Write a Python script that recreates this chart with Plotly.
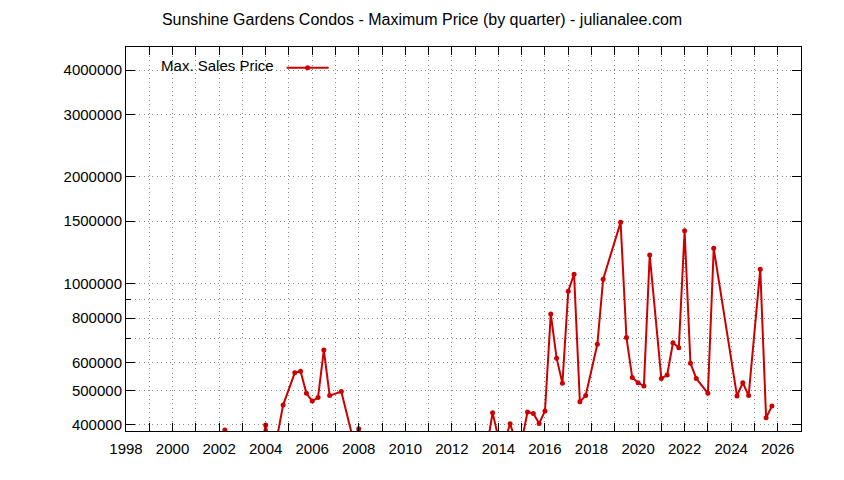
import plotly.graph_objects as go

# Quarterly sample dates (decimal years) and maximum sale prices
quarters = [
    2002.0, 2002.25, 2002.5, 2002.75, 2003.0, 2003.25, 2003.5, 2003.75,
    2004.0, 2004.25, 2004.5, 2004.75, 2005.25, 2005.5, 2005.75,
    2006.0, 2006.25, 2006.5, 2006.75, 2007.25, 2007.75,
    2008.0, 2008.25, 2013.5, 2013.75,
    2014.0, 2014.25, 2014.5, 2014.75, 2015.0, 2015.25, 2015.5, 2015.75,
    2016.0, 2016.25, 2016.5, 2016.75, 2017.0, 2017.25, 2017.5, 2017.75,
    2018.25, 2018.5, 2019.25, 2019.5, 2019.75,
    2020.0, 2020.25, 2020.5, 2021.0, 2021.25, 2021.5, 2021.75,
    2022.0, 2022.25, 2022.5, 2023.0, 2023.25,
    2024.25, 2024.5, 2024.75, 2025.25, 2025.5, 2025.75,
]
max_price = [
    330000, 387000, 320000, 300000, 310000, 295000, 320000, 330000,
    400000, 335000, 372000, 455000, 561000, 567000, 491000,
    467000, 478000, 650000, 484000, 497000, 366000,
    390000, 340000, 345000, 433000,
    368000, 355000, 403000, 360000, 360000, 435000, 431000, 404000,
    438000, 822000, 617000, 524000, 953000, 1064000, 465000, 484000,
    675000, 1030000, 1489000, 706000, 544000,
    526000, 515000, 1205000, 541000, 553000, 682000, 660000,
    1410000, 597000, 541000, 491000, 1258000,
    483000, 526000, 484000, 1099000, 419000, 452000,
]

series_name = "Max. Sales Price"
title_text = "Sunshine Gardens Condos - Maximum Price (by quarter) - julianalee.com"

y_major = [400000, 500000, 600000, 800000, 1000000, 1500000, 2000000, 3000000, 4000000]
y_minor = [700000, 900000]
y_labels = [str(v) for v in y_major]

FONT = "Liberation Sans"
GRID = "#8a8a8a"
DOT = "1px,3.4px"
RED = "#cc0000"

fig = go.Figure()
fig.add_trace(go.Scatter(
    x=quarters, y=max_price, mode="lines+markers", name=" ",
    line=dict(color=RED, width=2),
    marker=dict(color=RED, size=5, symbol="circle"),
    showlegend=True,
))

fig.update_layout(
    width=844, height=480,
    margin=dict(l=126, r=43, t=47, b=49),
    paper_bgcolor="white", plot_bgcolor="white",
    font=dict(family=FONT, size=15, color="black"),
    title=dict(text=title_text, x=0.5, xref="container", xanchor="center",
               y=1 - 19 / 480, yref="container", yanchor="middle",
               font=dict(family=FONT, size=16, color="black")),
    legend=dict(
        x=0.049, y=0.988, xanchor="left", yanchor="top",
        bgcolor="rgba(0,0,0,0)", borderwidth=0, itemwidth=42,
        title=dict(text=series_name, side="left",
                   font=dict(family=FONT, size=15)),
        font=dict(family=FONT, size=15),
    ),
    xaxis=dict(
        range=[1998, 2027], tickmode="linear", tick0=1998, dtick=2,
        showline=True, linecolor="black", linewidth=1, mirror="ticks",
        ticks="inside", ticklen=8, tickcolor="black", ticklabelstandoff=4,
        showgrid=True, gridcolor=GRID, griddash=DOT, gridwidth=1,
        zeroline=False,
        minor=dict(tick0=1998, dtick=1, ticks="inside", ticklen=8, tickcolor="black",
                   showgrid=True, gridcolor=GRID, griddash=DOT, gridwidth=1),
    ),
    yaxis=dict(
        type="log", range=[5.585, 6.667],
        tickmode="array", tickvals=y_major, ticktext=y_labels,
        showline=True, linecolor="black", linewidth=1, mirror="ticks",
        ticks="inside", ticklen=9, tickcolor="black",
        showgrid=True, gridcolor=GRID, griddash=DOT, gridwidth=1,
        zeroline=False,
        minor=dict(tickmode="array", tickvals=y_minor, ticks="inside", ticklen=5,
                   tickcolor="black", showgrid=True, gridcolor=GRID,
                   griddash=DOT, gridwidth=1),
    ),
)

fig.write_html("out.html")
